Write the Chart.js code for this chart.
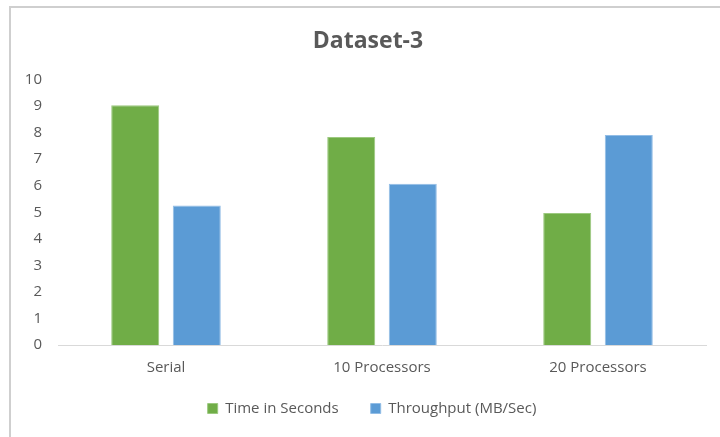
<!DOCTYPE html>
<html lang="en">

<head>
    <meta charset="UTF-8">
    <title>Dataset-3</title>
    <script src="https://cdn.jsdelivr.net/npm/chart.js"></script>
    <style>
        html, body {
            margin: 0;
            padding: 0;
            background: #fff;
            overflow: hidden;
        }

        #frame {
            position: absolute;
            left: 9px;
            top: 6px;
            width: 720px;
            height: 429px;
            border-left: 2px solid #cfcfcf;
            border-top: 2px solid #cfcfcf;
            border-bottom: 1px solid #ececec;
        }

        #wrap {
            position: absolute;
            left: 0;
            top: 0;
            width: 720px;
            height: 437px;
        }
    </style>
</head>

<body>
    <div id="frame"></div>
    <div id="wrap">
        <canvas id="chart" width="720" height="437"></canvas>
    </div>

    <script>
        const categories = ["Serial", "10 Processors", "20 Processors"]
        const timeSeconds = [9.03, 7.84, 4.97]
        const throughput = [5.26, 6.08, 7.91]
        const yTicks = [0, 1, 2, 3, 4, 5, 6, 7, 8, 9, 10]

        const textColor = "#595959"
        const fontFamily = "'Open Sans', 'Noto Sans', sans-serif"

        // nudge title and legend so they sit where the original has them
        const nudgeBoxes = {
            id: 'nudgeBoxes',
            afterLayout(chart) {
                const t = chart.titleBlock
                t.left += 15
                t.right += 15
                const l = chart.legend
                l.top -= 17
                l.bottom -= 17
                l.left += 19
                l.right += 19
            }
        }

        const config = {
            type: 'bar',
            data: {
                labels: categories,
                datasets: [{
                    label: "Time in Seconds",
                    data: timeSeconds,
                    backgroundColor: "#70AD47",
                    borderColor: "#9cc97f",
                    borderWidth: 1,
                    categoryPercentage: 0.57,
                    barPercentage: 0.78
                }, {
                    label: "Throughput (MB/Sec)",
                    data: throughput,
                    backgroundColor: "#5B9BD5",
                    borderColor: "#92bde6",
                    borderWidth: 1,
                    categoryPercentage: 0.57,
                    barPercentage: 0.78
                }]
            },
            options: {
                responsive: false,
                animation: false,
                layout: {
                    padding: { left: 0, right: 14, top: 0, bottom: 0 }
                },
                plugins: {
                    title: {
                        display: true,
                        text: "Dataset-3",
                        color: textColor,
                        font: { family: fontFamily, size: 23, weight: 'bold' },
                        padding: { top: 28, bottom: 24 }
                    },
                    legend: {
                        position: 'bottom',
                        maxHeight: 51,
                        labels: {
                            color: textColor,
                            font: { family: fontFamily, size: 15 },
                            boxWidth: 10,
                            boxHeight: 10,
                            padding: 32
                        }
                    },
                    tooltip: { enabled: false }
                },
                scales: {
                    x: {
                        grid: { display: false, drawTicks: false },
                        border: { display: true, color: "#d9d9d9", width: 1 },
                        ticks: {
                            color: textColor,
                            font: { family: fontFamily, size: 15 },
                            padding: 14,
                            maxRotation: 0
                        },
                        afterFit: function (scale) {
                            scale.height = 41
                        }
                    },
                    y: {
                        min: 0,
                        max: 10,
                        grid: { display: false, drawTicks: false },
                        border: { display: false },
                        afterBuildTicks: function (scale) {
                            scale.ticks = yTicks.map(v => ({ value: v }))
                        },
                        ticks: {
                            color: textColor,
                            font: { family: fontFamily, size: 15 },
                            padding: 16
                        },
                        afterFit: function (scale) {
                            scale.width = 58
                        }
                    }
                }
            },
            plugins: [nudgeBoxes]
        }

        const myChart = new Chart(document.getElementById('chart'), config)
    </script>
</body>

</html>
